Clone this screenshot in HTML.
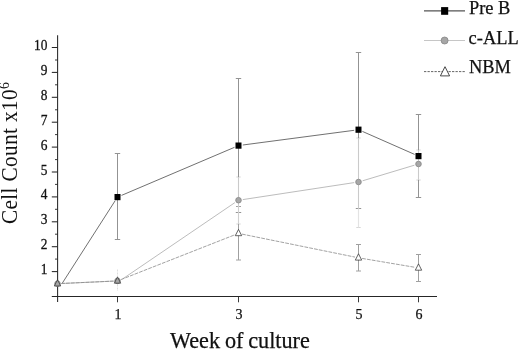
<!DOCTYPE html>
<html><head><meta charset="utf-8"><title>Chart</title>
<style>html,body{margin:0;padding:0;background:#fff}body{width:520px;height:349px;overflow:hidden}text{stroke:#111;stroke-width:.25px}</style></head>
<body>
<svg width="520" height="349" viewBox="0 0 520 349" style="display:block;filter:blur(0.35px)">
<rect width="520" height="349" fill="#fff"/>
<g font-family="'Liberation Serif', serif" fill="#111">
<g stroke="#262626" stroke-width="1.05" fill="none">
<line x1="57.6" y1="35.2" x2="57.6" y2="302"/>
<line x1="51.8" y1="296.5" x2="437" y2="296.5"/>
<line x1="51.8" y1="271.6" x2="57.6" y2="271.6"/>
<line x1="51.8" y1="246.7" x2="57.6" y2="246.7"/>
<line x1="51.8" y1="221.8" x2="57.6" y2="221.8"/>
<line x1="51.8" y1="196.9" x2="57.6" y2="196.9"/>
<line x1="51.8" y1="172.0" x2="57.6" y2="172.0"/>
<line x1="51.8" y1="147.1" x2="57.6" y2="147.1"/>
<line x1="51.8" y1="122.2" x2="57.6" y2="122.2"/>
<line x1="51.8" y1="97.3" x2="57.6" y2="97.3"/>
<line x1="51.8" y1="72.4" x2="57.6" y2="72.4"/>
<line x1="51.8" y1="47.5" x2="57.6" y2="47.5"/>
<line x1="55" y1="284.0" x2="57.6" y2="284.0" stroke-width="0.9"/>
<line x1="55" y1="259.1" x2="57.6" y2="259.1" stroke-width="0.9"/>
<line x1="55" y1="234.2" x2="57.6" y2="234.2" stroke-width="0.9"/>
<line x1="55" y1="209.3" x2="57.6" y2="209.3" stroke-width="0.9"/>
<line x1="55" y1="184.4" x2="57.6" y2="184.4" stroke-width="0.9"/>
<line x1="55" y1="159.6" x2="57.6" y2="159.6" stroke-width="0.9"/>
<line x1="55" y1="134.6" x2="57.6" y2="134.6" stroke-width="0.9"/>
<line x1="55" y1="109.8" x2="57.6" y2="109.8" stroke-width="0.9"/>
<line x1="55" y1="84.8" x2="57.6" y2="84.8" stroke-width="0.9"/>
<line x1="55" y1="60.0" x2="57.6" y2="60.0" stroke-width="0.9"/>
<line x1="117.5" y1="296.5" x2="117.5" y2="302.3" stroke-width="0.9"/>
<line x1="238.5" y1="296.5" x2="238.5" y2="302.3" stroke-width="0.9"/>
<line x1="358.5" y1="296.5" x2="358.5" y2="302.3" stroke-width="0.9"/>
<line x1="418.5" y1="296.5" x2="418.5" y2="302.3" stroke-width="0.9"/>
</g>
<text transform="translate(47.4,274.1) scale(1,1.15)" font-size="13.4" text-anchor="end">1</text>
<text transform="translate(47.4,249.2) scale(1,1.15)" font-size="13.4" text-anchor="end">2</text>
<text transform="translate(47.4,224.3) scale(1,1.15)" font-size="13.4" text-anchor="end">3</text>
<text transform="translate(47.4,199.4) scale(1,1.15)" font-size="13.4" text-anchor="end">4</text>
<text transform="translate(47.4,174.5) scale(1,1.15)" font-size="13.4" text-anchor="end">5</text>
<text transform="translate(47.4,149.6) scale(1,1.15)" font-size="13.4" text-anchor="end">6</text>
<text transform="translate(47.4,124.7) scale(1,1.15)" font-size="13.4" text-anchor="end">7</text>
<text transform="translate(47.4,99.8) scale(1,1.15)" font-size="13.4" text-anchor="end">8</text>
<text transform="translate(47.4,74.9) scale(1,1.15)" font-size="13.4" text-anchor="end">9</text>
<text transform="translate(47.4,50.0) scale(1,1.15)" font-size="13.4" text-anchor="end">10</text>
<text x="118.0" y="319.2" font-size="14" text-anchor="middle">1</text>
<text x="239.0" y="319.2" font-size="14" text-anchor="middle">3</text>
<text x="359.0" y="319.2" font-size="14" text-anchor="middle">5</text>
<text x="419.0" y="319.2" font-size="14" text-anchor="middle">6</text>
<text x="170.1" y="347.6" font-size="22.2" word-spacing="-0.7">Week of culture</text>
<text style="stroke:none" transform="translate(17.0,224) rotate(-90) scale(1,1.06)" font-size="21.3" letter-spacing="0.35">Cell Count x10<tspan font-size="13.8" dy="-7.3">6</tspan></text>
<g stroke="#d6d6d6" stroke-width="1" fill="none">
<line x1="238.5" y1="177" x2="238.5" y2="224"/>
<line x1="236.3" y1="177" x2="240.7" y2="177"/>
<line x1="236.3" y1="224" x2="240.7" y2="224"/>
<line x1="358.5" y1="138" x2="358.5" y2="227.5"/>
<line x1="356.3" y1="138" x2="360.7" y2="138"/>
<line x1="356.3" y1="227.5" x2="360.7" y2="227.5"/>
<line x1="418.5" y1="150" x2="418.5" y2="180"/>
<line x1="416.3" y1="150" x2="420.7" y2="150"/>
<line x1="416.3" y1="180" x2="420.7" y2="180"/>
</g>
<line x1="117.5" y1="269.5" x2="117.5" y2="291" stroke="#dedede" stroke-width="1" stroke-dasharray="2,1"/>
<g stroke="#939393" stroke-width="1" fill="none">
<line x1="117.5" y1="153.5" x2="117.5" y2="239.5"/>
<line x1="114.8" y1="153.5" x2="120.2" y2="153.5"/>
<line x1="114.8" y1="239.5" x2="120.2" y2="239.5"/>
<line x1="238.5" y1="78.5" x2="238.5" y2="212.5"/>
<line x1="235.8" y1="78.5" x2="241.2" y2="78.5"/>
<line x1="235.8" y1="212.5" x2="241.2" y2="212.5"/>
<line x1="358.5" y1="52.5" x2="358.5" y2="208.5"/>
<line x1="355.8" y1="52.5" x2="361.2" y2="52.5"/>
<line x1="355.8" y1="208.5" x2="361.2" y2="208.5"/>
<line x1="418.5" y1="114.5" x2="418.5" y2="197.5"/>
<line x1="415.8" y1="114.5" x2="421.2" y2="114.5"/>
<line x1="415.8" y1="197.5" x2="421.2" y2="197.5"/>
</g>
<g stroke="#a0a0a0" stroke-width="1" fill="none">
<line x1="238.5" y1="206.5" x2="238.5" y2="260.0"/>
<line x1="236.0" y1="206.5" x2="241.0" y2="206.5"/>
<line x1="236.0" y1="260.0" x2="241.0" y2="260.0"/>
<line x1="358.5" y1="244.5" x2="358.5" y2="271.0"/>
<line x1="356.0" y1="244.5" x2="361.0" y2="244.5"/>
<line x1="356.0" y1="271.0" x2="361.0" y2="271.0"/>
<line x1="418.5" y1="254.5" x2="418.5" y2="281.5"/>
<line x1="416.0" y1="254.5" x2="421.0" y2="254.5"/>
<line x1="416.0" y1="281.5" x2="421.0" y2="281.5"/>
</g>
<g stroke="#ececec" stroke-width="1.4" opacity="0.62">
<line x1="238.5" y1="177" x2="238.5" y2="224"/>
<line x1="358.5" y1="138" x2="358.5" y2="227.5"/>
<line x1="418.5" y1="150" x2="418.5" y2="180"/>
</g>
<g stroke="#606060" stroke-width="0.9" fill="none">
<line x1="62.4" y1="283.0" x2="115.1" y2="200.8"/>
<line x1="121.5" y1="195.4" x2="234.5" y2="147.3"/>
<line x1="242.8" y1="145.0" x2="354.2" y2="130.3"/>
<line x1="362.4" y1="131.4" x2="414.6" y2="154.4"/>
</g>
<g stroke="#b4b4b4" stroke-width="0.9" fill="none">
<line x1="61.8" y1="283.5" x2="113.2" y2="281.1"/>
<line x1="122.5" y1="279.0" x2="234.9" y2="202.6"/>
<line x1="242.8" y1="199.6" x2="354.2" y2="182.6"/>
<line x1="362.6" y1="180.8" x2="414.4" y2="165.2"/>
</g>
<g stroke="#8a8a8a" stroke-width="0.8" fill="none" stroke-dasharray="3.8,1.1">
<line x1="61.1" y1="283.5" x2="113.9" y2="281.1"/>
<line x1="120.9" y1="279.6" x2="235.1" y2="234.7"/>
<line x1="242.0" y1="234.1" x2="355.0" y2="257.1"/>
<line x1="362.1" y1="258.4" x2="414.9" y2="267.3"/>
</g>
<rect x="114.5" y="194.0" width="6" height="6.2" fill="#000"/>
<rect x="235.5" y="142.5" width="6" height="6.2" fill="#000"/>
<rect x="355.5" y="126.6" width="6" height="6.2" fill="#000"/>
<rect x="415.5" y="153.0" width="6" height="6.2" fill="#000"/>
<circle cx="57.5" cy="283.7" r="2.8" fill="#a6a6a6" stroke="#858585" stroke-width="0.8"/>
<circle cx="117.5" cy="280.9" r="2.8" fill="#a6a6a6" stroke="#858585" stroke-width="0.8"/>
<circle cx="238.5" cy="200.2" r="2.8" fill="#a6a6a6" stroke="#858585" stroke-width="0.8"/>
<circle cx="358.5" cy="182.0" r="2.8" fill="#a6a6a6" stroke="#858585" stroke-width="0.8"/>
<circle cx="418.5" cy="164.0" r="2.8" fill="#a6a6a6" stroke="#858585" stroke-width="0.8"/>
<path d="M57.5,279.7 L60.7,286.0 L54.3,286.0 Z" fill="none" stroke="#3c3c3c" stroke-width="0.8"/>
<path d="M117.5,276.9 L120.7,283.2 L114.3,283.2 Z" fill="none" stroke="#3c3c3c" stroke-width="0.8"/>
<path d="M238.5,229.4 L241.7,235.7 L235.3,235.7 Z" fill="#fff" stroke="#3c3c3c" stroke-width="0.8"/>
<path d="M358.5,253.8 L361.7,260.1 L355.3,260.1 Z" fill="#fff" stroke="#3c3c3c" stroke-width="0.8"/>
<path d="M418.5,263.9 L421.7,270.2 L415.3,270.2 Z" fill="#fff" stroke="#3c3c3c" stroke-width="0.8"/>
<line x1="424" y1="10.9" x2="465" y2="10.9" stroke="#555" stroke-width="1.1"/>
<rect x="441.1" y="7.1" width="7.1" height="7.7" fill="#000"/>
<text x="469" y="14.1" font-size="18.4">Pre B</text>
<line x1="424" y1="40.5" x2="465" y2="40.5" stroke="#c6c6c6" stroke-width="1"/>
<circle cx="444.6" cy="40.5" r="3.5" fill="#a6a6a6" stroke="#858585" stroke-width="0.8"/>
<text x="468.6" y="44.3" font-size="18.4">c-ALL</text>
<line x1="424" y1="71.6" x2="465" y2="71.6" stroke="#555" stroke-width="0.9" stroke-dasharray="2.3,1.2"/>
<path d="M445,66.7 L449.6,75.9 L440.4,75.9 Z" fill="#fff" stroke="#333" stroke-width="0.9"/>
<text x="469" y="73.3" font-size="18.4">NBM</text>
</g></svg>
</body></html>
